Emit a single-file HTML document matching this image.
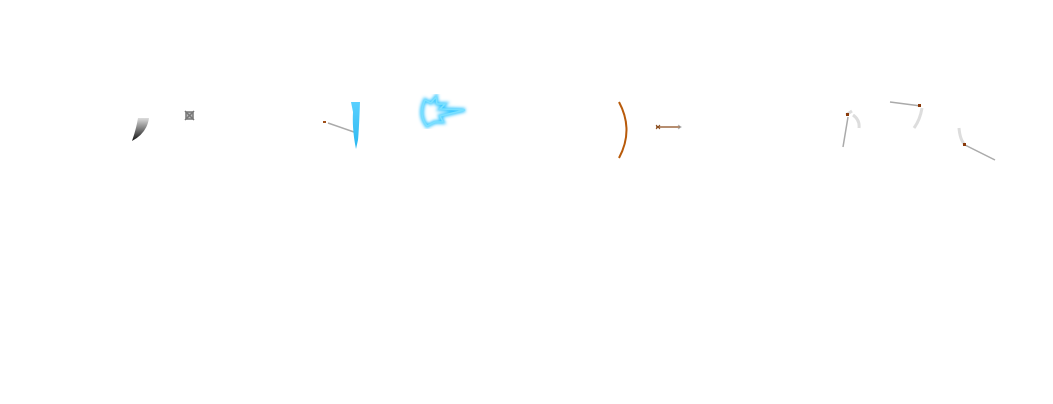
<!DOCTYPE html>
<html><head><meta charset="utf-8"><style>
html,body{margin:0;padding:0;background:#fff;width:1053px;height:404px;overflow:hidden}
svg{display:block}
</style></head><body>
<svg width="1053" height="404" viewBox="0 0 1053 404">
<defs>
<linearGradient id="g1" x1="0" y1="0" x2="0" y2="1"><stop offset="0" stop-color="#ddd"/><stop offset="1" stop-color="#111"/></linearGradient>
<linearGradient id="g2" x1="0" y1="0" x2="0" y2="1"><stop offset="0" stop-color="#5ad0ff"/><stop offset="1" stop-color="#2ab8f0"/></linearGradient>
<filter id="glow"><feGaussianBlur stdDeviation="1.5"/></filter>
</defs>
<path d="M138 118 L149 118 Q147 133 132 141 Q136 130 138 118 Z" fill="url(#g1)"/>
<g stroke="#777" stroke-width="1.5" fill="#bbb">
<rect x="186" y="112" width="7" height="7"/><line x1="185" y1="111" x2="194" y2="120"/><line x1="194" y1="111" x2="185" y2="120"/></g>
<g>
<line x1="328" y1="123" x2="354" y2="132" stroke="#aaa" stroke-width="1.5"/>
<rect x="323" y="121" width="3" height="2" fill="#a0501a"/>
<path d="M351 102 L360 102 Q359 130 358 140 L356 149 Q352 130 353 112 Z" fill="url(#g2)"/></g>
<g>
<path d="M425 100 L431 103 L436 97 L437 104 L445 104 L440 109 L465 110 L440 116 L443 122 L435 122 L427 126 Q418 115 425 100 Z" fill="none" stroke="#3ac8ff" stroke-width="4" filter="url(#glow)"/>
<path d="M425 100 L431 103 L436 97 L437 104 L445 104 L440 109 L465 110 L440 116 L443 122 L435 122 L427 126 Q418 115 425 100 Z" fill="none" stroke="#7ae0ff" stroke-width="1.5"/></g>
<path d="M619 102 Q634 130 619 158" fill="none" stroke="#b85a0a" stroke-width="2"/>
<g><line x1="656" y1="127" x2="680" y2="127" stroke="#8a4a1a" stroke-width="1.2"/><path d="M678 125 L681 127 L678 129" stroke="#aaa" fill="none"/><path d="M656 125 L660 129 M656 129 L660 125" stroke="#8a4a1a"/></g>
<g><line x1="843" y1="147" x2="848" y2="117" stroke="#aaa" stroke-width="1.5"/><path d="M846 115 L852 111 M853 115 Q860 120 859 128" stroke="#ddd" stroke-width="3" fill="none"/><rect x="846" y="113" width="3" height="3" fill="#8a3a0a"/></g>
<g><line x1="890" y1="102" x2="921" y2="106" stroke="#aaa" stroke-width="1.5"/><path d="M922 108 Q920 120 914 128" stroke="#ddd" stroke-width="3" fill="none"/><rect x="918" y="104" width="3" height="3" fill="#8a3a0a"/></g>
<g><line x1="965" y1="145" x2="995" y2="160" stroke="#aaa" stroke-width="1.5"/><path d="M959 128 Q960 140 965 145" stroke="#ddd" stroke-width="3" fill="none"/><rect x="963" y="143" width="3" height="3" fill="#8a3a0a"/></g>
</svg>
</body></html>
